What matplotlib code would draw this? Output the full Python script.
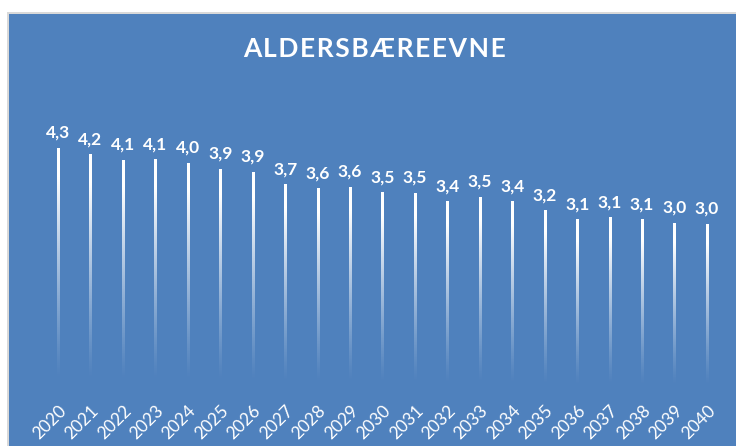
import numpy as np
import matplotlib
matplotlib.use("Agg")
import matplotlib.pyplot as plt
from matplotlib.patches import Rectangle

years = [str(y) for y in range(2020, 2041)]
values = [4.30, 4.19, 4.09, 4.10, 4.04, 3.94, 3.89, 3.68, 3.61, 3.63, 3.54,
          3.53, 3.39, 3.46, 3.39, 3.23, 3.08, 3.11, 3.08, 3.02, 3.00]
title = "ALDERSBÆREEVNE"

BG = "#4F81BD"
FONT = ["Lato", "DejaVu Sans"]


def fmt(v):
    return f"{v:.1f}".replace(".", ",")


def main():
    fig = plt.figure(figsize=(7.36, 4.46), dpi=100, facecolor="white")

    # chart area with thin grey frame on top/left
    fig.patches.append(Rectangle((7 / 736, 0), 1, 434 / 446, transform=fig.transFigure,
                                 facecolor="#D9D9D9", edgecolor="none", zorder=-10))
    fig.patches.append(Rectangle((9 / 736, 0), 1, 432 / 446, transform=fig.transFigure,
                                 facecolor=BG, edgecolor="none", zorder=-9))

    ax = fig.add_axes([41.8 / 736, 46 / 446, 681.4 / 736, 293.5 / 446])
    ax.set_facecolor("none")

    x = np.arange(len(values))
    width = 0.065
    bars = ax.bar(x, values, width, color="none", edgecolor="none")

    # white bars fading out towards the baseline
    n = 200
    frac = np.linspace(0, 1, n)
    alpha = np.clip((frac - 0.08) / 0.8, 0, 1) ** 1.2
    grad = np.ones((n, 1, 4))
    grad[:, 0, 3] = alpha
    for b, v in zip(bars, values):
        im = ax.imshow(grad, extent=[b.get_x(), b.get_x() + b.get_width(), 0, v],
                       origin="lower", aspect="auto", interpolation="bilinear", zorder=2)
        im.set_clip_path(b)

    for xi, v in zip(x, values):
        ax.annotate(fmt(v), (xi, v), xytext=(0, 5), textcoords="offset points",
                    ha="center", va="bottom", color="white", fontsize=12.5,
                    fontweight="bold", family=FONT)

    ax.set_xlim(-0.5, len(values) - 0.5)
    ax.set_ylim(0, 5)
    ax.set_xticks(x)
    ax.set_xticklabels(years, rotation=45, ha="right", va="top",
                       rotation_mode="anchor", color="white", fontsize=12.5, family=FONT)
    ax.tick_params(axis="x", length=0, pad=2)
    ax.set_yticks([])
    for s in ax.spines.values():
        s.set_visible(False)

    fig.text(375 / 736, 1 - 49 / 446, "\u200a".join(title),
             ha="center", va="center", color="white", fontsize=19,
             fontweight="bold", family=FONT)

    fig.savefig("out.png", dpi=100, facecolor="white")


if __name__ == "__main__":
    main()
